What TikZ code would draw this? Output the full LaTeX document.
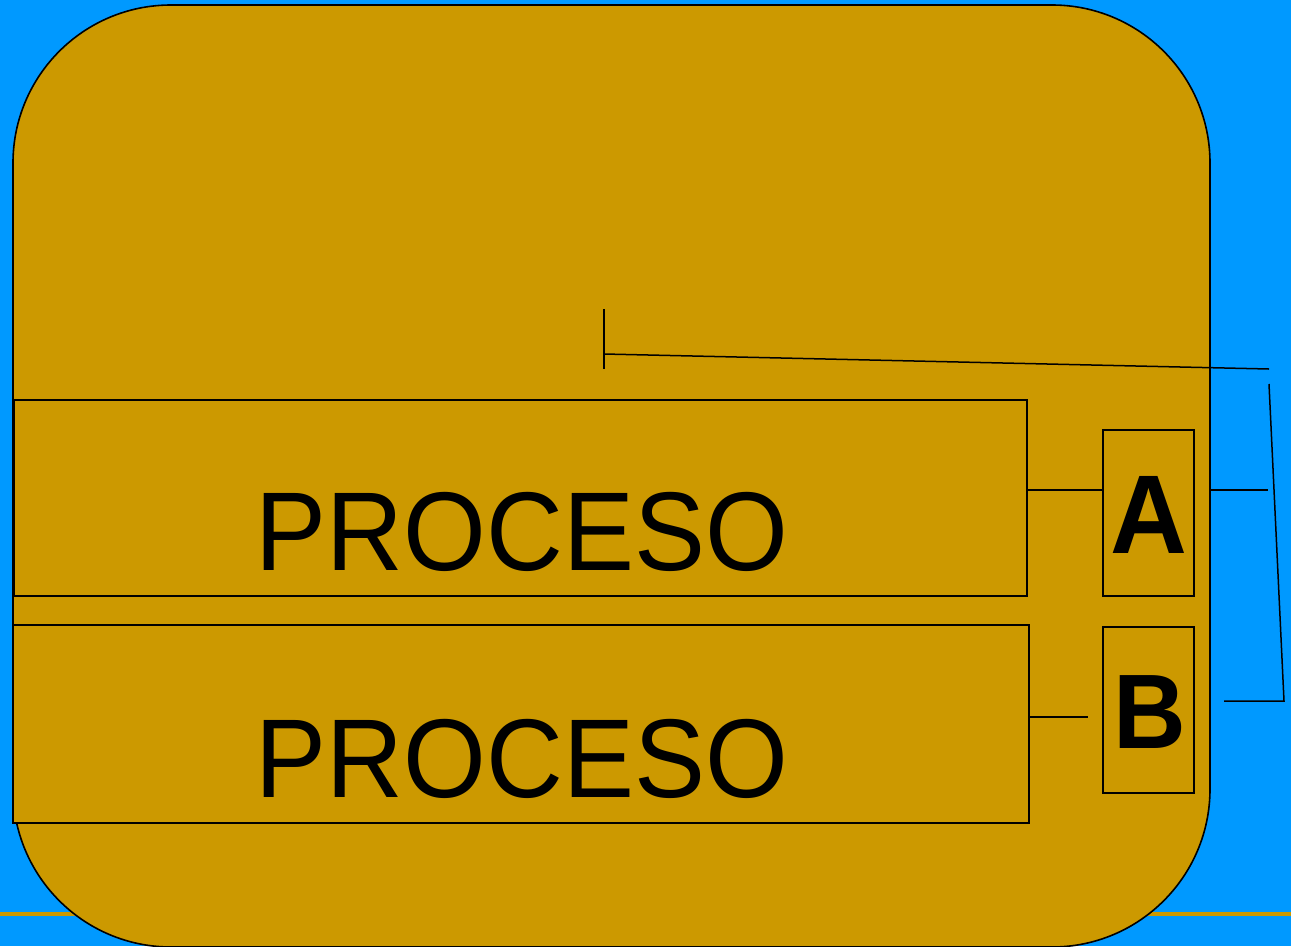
\documentclass[tikz,border=0pt]{standalone}
\usepackage{fontspec}
\setmainfont{Liberation Sans}
\definecolor{bgblue}{HTML}{0099FF}
\definecolor{gold}{HTML}{CC9900}
\newcommand{\narrow}[1]{\scalebox{0.95}[1]{#1}}
\begin{document}
\begin{tikzpicture}[x={(1pt,0)},y={(0,-1pt)},
  box/.style={draw=black,line width=1.5pt,fill=gold,inner sep=0pt,outer sep=0pt,anchor=north west},
  conn/.style={draw=black,line width=1.5pt},
  big/.style={inner sep=0pt,anchor=base,font=\fontsize{112}{112}\selectfont},
  letter/.style={inner sep=0pt,anchor=base,font=\fontsize{112}{112}\selectfont\bfseries}]
\useasboundingbox (0,0) rectangle (1291,946);
\fill[bgblue] (0,0) rectangle (1291,946);
\begin{scope}
\clip (0,0) rectangle (1291,946);
\fill[gold] (0,911.5) rectangle (1291,916);
\draw[fill=gold,line width=1.6pt,rounded corners=158pt] (13,5) rectangle (1210,947);
\end{scope}
% boxes
\node[box,minimum width=1013pt,minimum height=196pt] (p1) at (14,400) {};
\node[box,minimum width=1016pt,minimum height=198pt] (p2) at (13,625) {};
\node[box,minimum width=91pt,minimum height=166pt] (a) at (1103,430) {};
\node[box,minimum width=91pt,minimum height=166pt] (b) at (1103,627) {};
% texts
\node[big] (t1) at (522,570) {\narrow{PROCESO}};
\node[big] (t2) at (522,797) {\narrow{PROCESO}};
\node[letter] (ta) at (1148.5,553) {\narrow{A}};
\node[letter,font=\fontsize{106}{106}\selectfont\bfseries] (tb) at (1150,748) {\narrow{B}};
% connectors
\coordinate (c1) at (1268,490);
\coordinate (c2) at (1088,717);
\coordinate (d1) at (1224,701);
\coordinate (d2) at (1284,701);
\coordinate (d3) at (1269,384);
\coordinate (e1) at (604,354);
\coordinate (e2) at (1269,369);
\coordinate (f1) at (604,309);
\coordinate (f2) at (604,369);
\draw[conn] (p1.east |- 0,490) -- (a.west |- 0,490);
\draw[conn] (1210,490) -- (c1);
\draw[conn] (p2.east |- 0,717) -- (c2);
\draw[conn] (d1) -- (d2) -- (d3);
\draw[conn] (e1) -- (e2);
\draw[conn] (f1) -- (f2);
\end{tikzpicture}
\end{document}
